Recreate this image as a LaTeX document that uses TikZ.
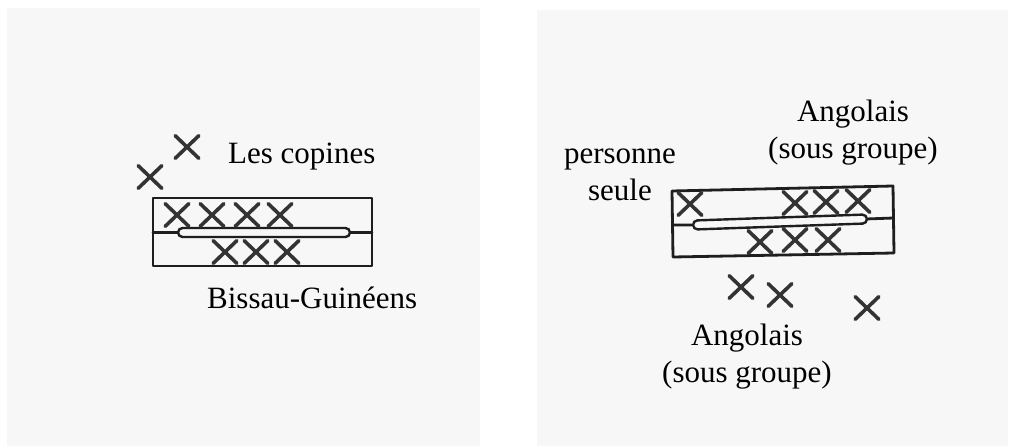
\documentclass[tikz,border=0pt]{standalone}
\usepackage{fontspec}
\setmainfont{Liberation Serif}
\usetikzlibrary{shapes.misc}
\definecolor{paper}{HTML}{F7F7F7}
\definecolor{ink}{HTML}{1E1E1E}
\definecolor{xink}{HTML}{333333}
\tikzset{
  panel/.style={fill=paper, draw=none},
  boxline/.style={draw=ink, line width=2.8pt, line join=round, line cap=round},
  xmark/.style={cross out, draw=xink, line width=3.6pt, minimum width=20pt, minimum height=19pt, inner sep=0pt, line cap=round},
  lbl/.style={font=\fontsize{31}{37}\selectfont, text=black, inner sep=0pt},
}
\begin{document}
\begin{tikzpicture}[x=1pt, y=-1pt]
\useasboundingbox (0,0) rectangle (1014,446);
% panels
\fill[panel] (7,8) rectangle (480,446);
\fill[panel] (537,10) rectangle (1008,446);

% ---------- left diagram ----------
\draw[boxline] (153,198) rectangle (372,266);
\node[draw=ink, line width=2.4pt, rounded rectangle, minimum width=172pt, minimum height=9pt, inner sep=0pt] (capL) at (264,232.5) {};
\coordinate (lL) at (153,232.5);
\coordinate (lR) at (372,232.5);
\draw[boxline] (lL) -- (capL.west);
\draw[boxline] (capL.east) -- (lR);

\node[xmark] (a1) at (177,215) {};
\node[xmark] (a2) at (212,215) {};
\node[xmark] (a3) at (247,215) {};
\node[xmark] (a4) at (280,215) {};
\node[xmark] (b1) at (225,252) {};
\node[xmark] (b2) at (256,252) {};
\node[xmark] (b3) at (287,252) {};
\node[xmark] (c1) at (187,147) {};
\node[xmark] (c2) at (150,177) {};

\node[lbl, anchor=base west] (copines) at (228,164) {Les copines};
\node[lbl, anchor=base west] (bissau) at (207,308) {Bissau-Guinéens};

% ---------- right diagram ----------
\draw[boxline] (672,191) -- (893,186) -- (894,253) -- (673,257) -- cycle;
\node[draw=ink, line width=2.4pt, rounded rectangle, minimum width=174pt, minimum height=9pt, inner sep=0pt, rotate=2] (capR) at (780,222) {};
\coordinate (rL) at (672.5,225);
\coordinate (rR) at (893.5,218);
\draw[boxline] (rL) -- (capR.west);
\draw[boxline] (capR.east) -- (rR);

\node[xmark] (d1) at (690,204) {};
\node[xmark] (d2) at (795,203) {};
\node[xmark] (d3) at (826,202) {};
\node[xmark] (d4) at (858,201) {};
\node[xmark] (e1) at (760,242) {};
\node[xmark] (e2) at (795,240) {};
\node[xmark] (e3) at (828,240) {};
\node[xmark] (f1) at (741,287) {};
\node[xmark] (f2) at (780,295) {};
\node[xmark] (f3) at (867,308) {};

\node[lbl, align=center, anchor=north] (seule) at (620,149) {personne\\seule};
\node[lbl, align=center, anchor=north] (angtop) at (853,100) {Angolais\\(sous groupe)};
\node[lbl, align=center, anchor=north] (angbot) at (747,324) {Angolais\\(sous groupe)};
\end{tikzpicture}
\end{document}
